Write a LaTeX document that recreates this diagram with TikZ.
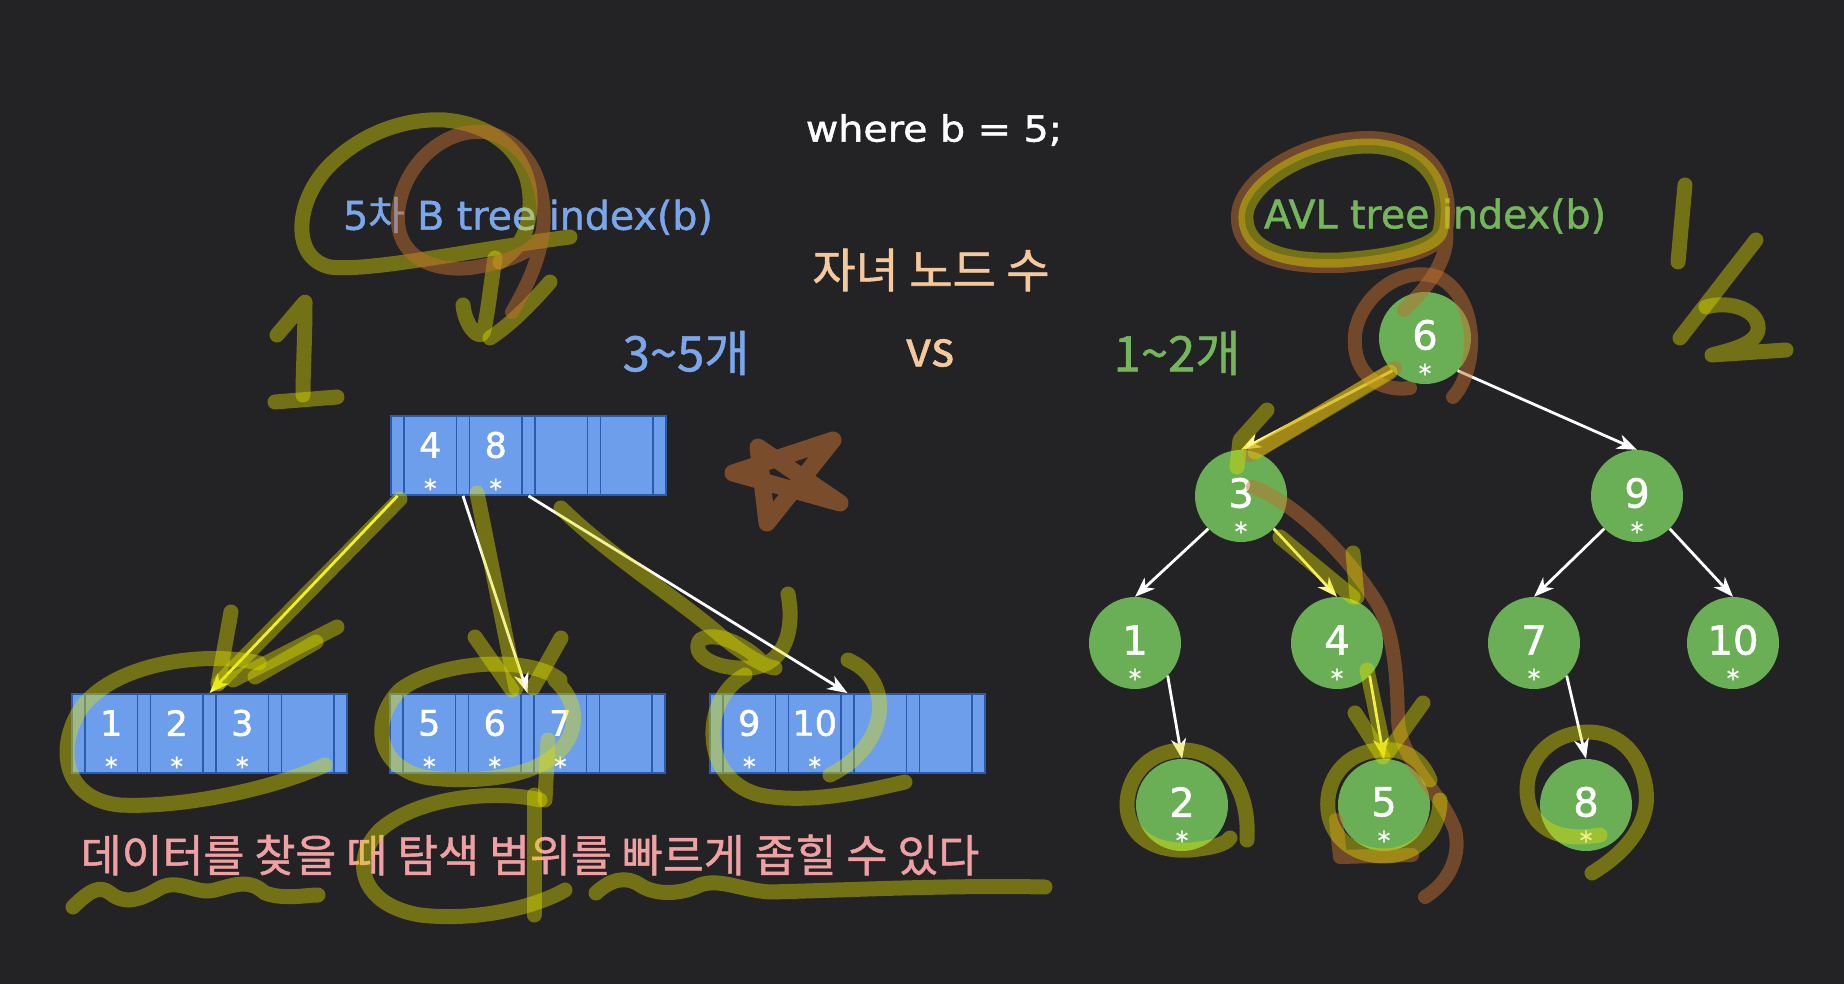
\documentclass[tikz,border=0pt]{standalone}
\usepackage{fontspec}
\setmainfont{DejaVu Sans}
\newfontfamily\dv[FakeBold=1.3]{DejaVu Sans}
\newfontfamily\kr[FakeBold=1.1]{Noto Sans CJK KR}
\usetikzlibrary{arrows.meta}
\definecolor{bg}{HTML}{232225}
\definecolor{cellblue}{HTML}{6D9EEB}
\definecolor{celledge}{HTML}{2B5BAE}
\definecolor{avlgreen}{HTML}{6AAF55}
\definecolor{tblue}{HTML}{7AA6EC}
\definecolor{tgreen}{HTML}{74B65C}
\definecolor{tpeach}{HTML}{F5C99E}
\definecolor{tpink}{HTML}{EEA0A3}
\definecolor{byel}{HTML}{FFFF40}
\definecolor{avlyel}{HTML}{FFF68A}
\definecolor{penyel}{HTML}{E0E000}
\definecolor{penbrown}{HTML}{C07030}

\newcommand\BtNode[4]{%
  \foreach \i in {0,...,4}{\node[bptr] (#1p\i) at ({#2+\i*65.5+6.5},{#3+39.5}) {};}
  \foreach \j/\k/\s in {#4}{%
    \node[bkey] (#1k\j) at ({#2+(\j-1)*65.5+39.25},{#3+39.5}) {};
    \node[keytxt] (#1t\j) at ({#2+(\j-1)*65.5+39.25},{#3+29}) {\k};
    \node[asttxt] (#1s\j) at ({#2+(\j-1)*65.5+39.25},{#3+72}) {\s};
  }%
}
\newcommand\AvlNode[3]{%
  \node[avl] (n#1) at (#2,#3) {};
  \node[avltxt] (n#1t) at (#2,{#3-3}) {#1};
  \node[asttxt] (n#1s) at (#2,{#3+35}) {*};
}

\begin{document}
\begin{tikzpicture}[x=1pt,y=-1pt,
  bptr/.style={rectangle, draw=celledge, fill=cellblue, line width=1.8pt, minimum width=13pt, minimum height=79pt, inner sep=0pt},
  bkey/.style={bptr, minimum width=52.5pt},
  keytxt/.style={text=white, font=\dv\fontsize{35}{40}\selectfont, inner sep=0pt},
  asttxt/.style={text=white, font=\dv\fontsize{25}{28}\selectfont, inner sep=0pt},
  avl/.style={circle, fill=avlgreen, minimum size=92pt, inner sep=0pt},
  avltxt/.style={text=white, font=\dv\fontsize{40}{44}\selectfont, inner sep=0pt},
  wa/.style={draw=white, line width=2.8pt, -{Stealth[length=20pt,width=15pt,inset=6pt]}},
  ya/.style={wa, draw=avlyel},
  ba/.style={wa, draw=byel},
  lbl/.style={inner sep=0pt, anchor=center},
  penY/.style={draw=penyel, draw opacity=0.42, line width=15pt, line cap=round, line join=round},
  penB/.style={draw=penbrown, draw opacity=0.5, line width=14pt, line cap=round, line join=round}
]
\fill[bg] (0,0) rectangle (1844,984);
\useasboundingbox (0,0) rectangle (1844,984);

% ---- texts ----
\node[lbl, text=white, font=\dv\fontsize{36}{40}\selectfont] (where) at (934,130) {\scalebox{1.1}[1]{where b = 5;}};
\node[lbl, text=tblue, font=\dv\fontsize{39.5}{44}\selectfont] (btitle) at (528,216) {5{\kr 차} B tree index(b)};
\node[lbl, text=tgreen, font=\dv\fontsize{39.5}{44}\selectfont] (atitle) at (1435,216) {AVL tree index(b)};
\node[lbl, text=tpeach, font=\kr\fontsize{47}{52}\selectfont] (child) at (931,270) {자녀 노드 수};
\node[lbl, text=tblue, font=\kr\fontsize{49}{54}\selectfont] (bcnt) at (686,353) {3\textasciitilde 5개};
\node[lbl, text=tpeach, font=\kr\fontsize{49}{54}\selectfont] (vs) at (930,353) {vs};
\node[lbl, text=tgreen, font=\kr\fontsize{49}{54}\selectfont] (acnt) at (1177,353) {1\textasciitilde 2개};
\node[lbl, text=tpink, font=\kr\fontsize{44.5}{50}\selectfont] (note) at (530,855) {데이터를 찾을 때 탐색 범위를 빠르게 좁힐 수 있다};

% ---- B tree ----
\BtNode{T}{391}{416}{1/4/*,2/8/*,3//,4//}
\BtNode{L}{72}{694}{1/1/*,2/2/*,3/3/*,4//}
\BtNode{M}{390}{694}{1/5/*,2/6/*,3/7/*,4//}
\BtNode{R}{710}{694}{1/9/*,2/10/*,3//,4//}
\draw[ba] (Tp0.south) -- (Lp2.north);
\draw[wa] (Tp1.south) -- (Mp2.north);
\draw[wa] (Tp2.south) -- (Rp2.north);

% ---- AVL tree ----
\AvlNode{6}{1425}{338}
\AvlNode{3}{1241}{496}
\AvlNode{9}{1637}{496}
\AvlNode{1}{1135}{643}
\AvlNode{4}{1337}{643}
\AvlNode{7}{1534}{643}
\AvlNode{10}{1733}{643}
\AvlNode{2}{1182}{805}
\AvlNode{5}{1384}{805}
\AvlNode{8}{1586}{805}
\draw[ya] (n6.south west) -- (n3.north);
\draw[wa] (n6.south east) -- (n9.north);
\draw[wa] (n3.south west) -- (n1.north);
\draw[ya] (n3.south east) -- (n4.north);
\draw[wa] (n9.south west) -- (n7.north);
\draw[wa] (n9.south east) -- (n10.north);
\draw[wa] (n1.south east) -- (n2.north);
\draw[ya] (n4.south east) -- (n5.north);
\draw[wa] (n7.south east) -- (n8.north);

% ---- pen annotations ----
% left "9" and "1"
\draw[penY] (570,237) .. controls (470,250) and (370,272) .. (330,267) .. controls (290,258) and (295,200) .. (330,165) .. controls (365,130) and (410,118) .. (445,120) .. controls (500,125) and (532,160) .. (530,205) .. controls (528,240) and (515,250) .. (500,262);
\draw[penY] (495,258) .. controls (490,290) and (487,320) .. (483,333) .. controls (478,340) and (465,325) .. (463,305);
\draw[penY] (550,282) .. controls (530,305) and (510,325) .. (490,338);
\draw[penB] (543,230) .. controls (548,180) and (525,140) .. (485,132) .. controls (440,128) and (400,170) .. (398,215) .. controls (396,255) and (430,272) .. (470,268) .. controls (510,262) and (540,250) .. (543,230) .. controls (540,260) and (525,290) .. (512,312);
\draw[penY] (277,335) -- (305,302) .. controls (305,340) and (303,370) .. (303,395);
\draw[penY] (275,402) -- (337,397);
% star
\draw[penB, draw opacity=0.55, line width=17pt] (758,447) -- (840,503) -- (733,473) -- (833,440) -- (767,523) -- cycle;
% B-tree arrow highlights
\draw[penY] (400,499) -- (220,682);
\draw[penY] (231,612) -- (218,684);
\draw[penY] (337,627) -- (233,680);
\draw[penY] (316,642) -- (255,677);
\draw[penY] (477,493) -- (516,688);
\draw[penY] (475,637) -- (512,690);
\draw[penY] (561,638) -- (533,688);
\draw[penY] (561,508) .. controls (610,556) and (680,600) .. (720,635) .. controls (750,660) and (770,668) .. (775,668);
\draw[penY] (788,594) .. controls (795,630) and (785,665) .. (750,668) .. controls (715,670) and (690,655) .. (700,640) .. controls (715,630) and (745,645) .. (760,660);
% loops around child nodes
\draw[penY] (259,663) .. controls (200,650) and (110,665) .. (80,710) .. controls (55,750) and (65,800) .. (120,805) .. controls (180,808) and (270,790) .. (325,765);
\draw[penY] (560,680) .. controls (530,655) and (440,660) .. (400,690) .. controls (370,720) and (375,770) .. (430,778) .. controls (500,785) and (560,770) .. (572,730) .. controls (578,705) and (565,690) .. (555,680);
\draw[penY] (548,740) -- (545,800);
\draw[penY] (745,675) .. controls (700,700) and (700,780) .. (760,795) .. controls (810,805) and (870,790) .. (905,782);
\draw[penY] (848,660) .. controls (895,680) and (890,745) .. (830,775);
% below text
\draw[penY] (540,800) .. controls (500,790) and (420,795) .. (380,830) .. controls (350,860) and (360,905) .. (420,915) .. controls (480,922) and (540,905) .. (565,890);
\draw[penY] (534,795) -- (534,915);
\draw[penY] (73,907) .. controls (90,890) and (100,885) .. (110,893) .. controls (125,905) and (140,900) .. (160,888) .. controls (180,878) and (195,895) .. (215,890) .. controls (240,883) and (250,880) .. (265,893) .. controls (285,900) and (305,895) .. (318,895);
\draw[penY] (596,893) .. controls (610,880) and (625,875) .. (640,885) .. controls (655,895) and (680,895) .. (700,885) .. controls (720,878) and (740,890) .. (770,892) .. controls (850,890) and (950,885) .. (1045,887);
% AVL annotations
\draw[penB] (1446,230) .. controls (1455,180) and (1430,140) .. (1370,138) .. controls (1300,138) and (1240,180) .. (1238,215) .. controls (1236,255) and (1280,268) .. (1340,266) .. controls (1400,262) and (1440,250) .. (1446,230) .. controls (1450,260) and (1425,290) .. (1404,310);
\draw[penY] (1440,232) .. controls (1450,185) and (1425,148) .. (1370,146) .. controls (1305,146) and (1248,185) .. (1246,215) .. controls (1244,250) and (1285,262) .. (1340,260) .. controls (1400,256) and (1435,245) .. (1440,232);
\draw[penB] (1453,397) .. controls (1478,370) and (1480,300) .. (1440,278) .. controls (1400,262) and (1358,300) .. (1355,335) .. controls (1352,375) and (1380,392) .. (1410,388);
\draw[penY] (1685,185) -- (1678,262);
\draw[penY] (1756,240) -- (1680,338);
\draw[penY] (1706,307) .. controls (1730,300) and (1760,310) .. (1758,330) .. controls (1755,345) and (1730,350) .. (1712,355) -- (1786,350);
\draw[penB] (1395,368) -- (1250,455);
\draw[penY] (1390,372) -- (1255,452);
\draw[penY] (1267,410) -- (1240,440) -- (1237,467);
\draw[penB] (1253,487) .. controls (1300,505) and (1350,560) .. (1375,600) .. controls (1395,630) and (1397,680) .. (1398,720) .. controls (1400,760) and (1440,790) .. (1455,830) .. controls (1462,860) and (1445,885) .. (1425,897);
\draw[penB] (1336,820) -- (1340,857) -- (1412,855);
\draw[penY] (1280,537) -- (1353,597);
\draw[penY] (1353,553) -- (1357,597);
\draw[penY] (1367,670) -- (1382,740);
\draw[penY] (1247,840) .. controls (1250,790) and (1225,752) .. (1185,750) .. controls (1145,750) and (1127,780) .. (1127,805) .. controls (1128,840) and (1160,852) .. (1190,850) .. controls (1210,848) and (1225,845) .. (1230,838);
\draw[penY] (1430,780) .. controls (1420,755) and (1400,748) .. (1380,750) .. controls (1345,752) and (1325,780) .. (1328,810) .. controls (1332,845) and (1365,860) .. (1395,855) .. controls (1420,850) and (1440,830) .. (1440,800);
\draw[penY] (1355,713) -- (1383,757);
\draw[penY] (1423,703) -- (1387,753);
\draw[penY] (1592,873) .. controls (1630,850) and (1650,820) .. (1646,790) .. controls (1642,755) and (1620,733) .. (1590,732) .. controls (1550,732) and (1527,760) .. (1527,790) .. controls (1528,830) and (1560,842) .. (1600,835);
\end{tikzpicture}
\end{document}
